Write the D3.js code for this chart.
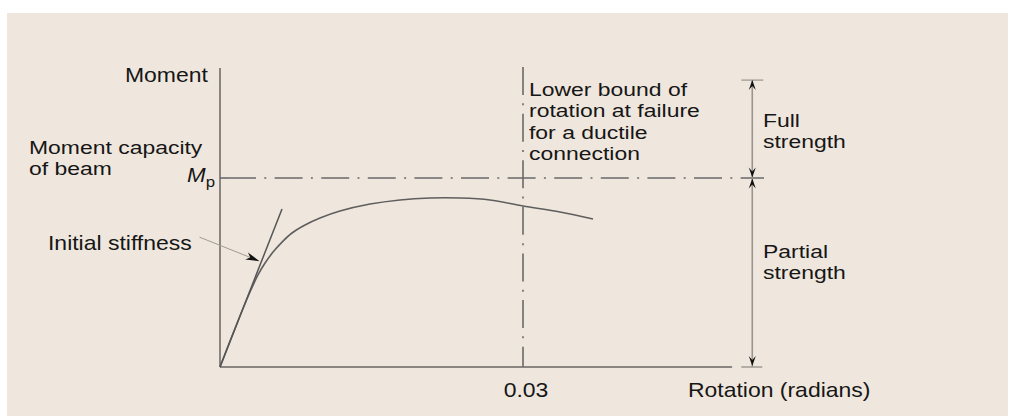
<!DOCTYPE html>
<html><head><meta charset="utf-8">
<script src="https://cdn.jsdelivr.net/npm/d3@7"></script>
<style>
html,body{margin:0;padding:0;background:#fff;}
svg{display:block;}
</style></head>
<body>
<svg id="chart" width="1010" height="416"></svg>
<script>
// ---- data (rotation in radians, moment as fraction of Mp) ----
const rotation = [0, 0.00198, 0.00297, 0.00376, 0.00446, 0.00525, 0.00614, 0.00713, 0.00842, 0.00990, 0.01188, 0.01485, 0.01782, 0.02079, 0.02376, 0.02673, 0.03, 0.03366, 0.03693];
const moment   = [0, 0.270, 0.397, 0.487, 0.550, 0.608, 0.661, 0.709, 0.751, 0.788, 0.825, 0.862, 0.884, 0.894, 0.894, 0.884, 0.852, 0.820, 0.783];
const tangentRotation = [0, 0.00614];
const tangentMoment   = [0, 0.836];
const failureRotation = 0.03;
const xTickLabels = ["0.03"];
const axisRotationMax = 0.0507;
const axisMomentMax = 1.582;

const svg = d3.select("#chart");
const W = 1010, H = 416;
svg.append("rect").attr("x", 7).attr("y", 13).attr("width", 1001).attr("height", H - 13).attr("fill", "#efe7dd");

const x = d3.scaleLinear().domain([0, 0.03]).range([220, 523]);
const y = d3.scaleLinear().domain([0, 1]).range([367, 178]);

const AX = "#8a8580", LINE = "#6a6a6a", TXT = "#161616";
const FS = 20.5, SX = 1.12;

// axes
const xAxis = d3.axisBottom(x).tickValues([]).tickSizeOuter(0);
svg.append("g").attr("transform", `translate(0,${y(0)})`).call(xAxis)
  .call(g => g.select(".domain").attr("d", `M${x(0)},0H${x(axisRotationMax)}`).attr("stroke", AX).attr("stroke-width", 2));
const yAxis = d3.axisLeft(y).tickValues([]).tickSizeOuter(0);
svg.append("g").attr("transform", `translate(${x(0)},0)`).call(yAxis)
  .call(g => g.select(".domain").attr("d", `M0,${y(axisMomentMax)}V${y(0)}`).attr("stroke", AX).attr("stroke-width", 2));

// Mp dash-dot line
const dash = "28,8.3,2,8.3";
const mpEnd = 0.05386;
svg.append("line").attr("x1", x(0)).attr("x2", x(0) + 8).attr("y1", y(1)).attr("y2", y(1))
  .attr("stroke", LINE).attr("stroke-width", 1.6);
svg.append("line").attr("x1", x(0) + 8).attr("x2", x(mpEnd)).attr("y1", y(1)).attr("y2", y(1))
  .attr("stroke", LINE).attr("stroke-width", 1.6).attr("stroke-dasharray", dash);

// vertical dash-dot at failure rotation
svg.append("line").attr("x1", x(failureRotation)).attr("x2", x(failureRotation))
  .attr("y1", y(1.587)).attr("y2", y(0))
  .attr("stroke", LINE).attr("stroke-width", 1.6).attr("stroke-dasharray", dash);

// moment-rotation curve
const pts = rotation.map((r, i) => [r, moment[i]]);
const line = d3.line().x(d => x(d[0])).y(d => y(d[1])).curve(d3.curveCatmullRom.alpha(0.5));
svg.append("path").datum(pts).attr("d", line).attr("fill", "none").attr("stroke", "#5e5e5e").attr("stroke-width", 1.6);

// initial stiffness tangent
const tpts = tangentRotation.map((r, i) => [r, tangentMoment[i]]);
svg.append("path").datum(tpts).attr("d", d3.line().x(d => x(d[0])).y(d => y(d[1])))
  .attr("fill", "none").attr("stroke", "#555").attr("stroke-width", 1.5);

// arrow helper
function arrowHead(tx, ty, ux, uy, len, half, notch, fill) {
  const nx = -uy, ny = ux;
  const bx = tx - ux * len, by = ty - uy * len;
  const mx = tx - ux * notch, my = ty - uy * notch;
  return svg.append("path")
    .attr("d", `M${tx},${ty}L${bx + nx * half},${by + ny * half}L${mx},${my}L${bx - nx * half},${by - ny * half}Z`)
    .attr("fill", fill);
}

// leader for initial stiffness
const tipM = 0.56, tipR = tipM * tangentRotation[1] / tangentMoment[1];
const tipX = x(tipR) - 2, tipY = y(tipM);
const dx = 60, dy = 24, dl = Math.hypot(dx, dy);
svg.append("line").attr("x1", tipX - dx).attr("y1", tipY - dy).attr("x2", tipX - 4).attr("y2", tipY - 1.6)
  .attr("stroke", "#a09a94").attr("stroke-width", 1);
arrowHead(tipX, tipY, dx / dl, dy / dl, 14, 3.8, 10, "#111");

// dimension line on the right
const dimR = 0.0527, dimTop = 1.518;
const dX = x(dimR);
svg.append("line").attr("x1", dX).attr("x2", dX).attr("y1", y(dimTop)).attr("y2", y(0))
  .attr("stroke", "#9a948e").attr("stroke-width", 1.6);
svg.append("line").attr("x1", dX - 11).attr("x2", dX + 11).attr("y1", y(dimTop)).attr("y2", y(dimTop))
  .attr("stroke", "#9a948e").attr("stroke-width", 1.2);
svg.append("line").attr("x1", dX - 11).attr("x2", dX + 10).attr("y1", y(0)).attr("y2", y(0))
  .attr("stroke", "#9a948e").attr("stroke-width", 1.4);
arrowHead(dX, y(dimTop), 0, -1, 10, 3.5, 6, "#111");
arrowHead(dX, y(1) - 0.5, 0, 1, 10, 3.5, 6, "#111");
arrowHead(dX, y(1) + 0.5, 0, -1, 10, 3.5, 6, "#111");
arrowHead(dX, y(0) - 1, 0, 1, 10, 3.5, 6, "#111");

// text helper: one text element, lines as tspans
function label(tx, ty, lines, opts = {}) {
  if (!Array.isArray(lines)) lines = [lines];
  const lh = opts.lh || 21.3;
  const t = svg.append("text")
    .attr("transform", `translate(${tx},${ty}) scale(${opts.sx || SX},1)`)
    .attr("font-family", "'Liberation Sans', Arial, sans-serif")
    .attr("font-size", opts.size || FS)
    .attr("fill", TXT)
    .attr("text-anchor", opts.anchor || "start");
  lines.forEach((s, i) => t.append("tspan").attr("x", 0).attr("y", i * lh).text(s));
  return t;
}

const ML = { size: 18.5, sx: 1.24, lh: 21.3 };
label(125, 82, "Moment");
label(29, 154, ["Moment capacity", "of beam"], ML);
const mp = svg.append("text").attr("transform", `translate(187,182) scale(${SX},1)`)
  .attr("font-family", "'Liberation Sans', Arial, sans-serif").attr("fill", TXT);
mp.append("tspan").attr("font-size", 20).attr("font-style", "italic").text("M");
mp.append("tspan").attr("font-size", 15).attr("dy", 5).text("p");

label(48, 250, "Initial stiffness");

label(529, 96, ["Lower bound of", "rotation at failure", "for a ductile", "connection"], ML);
label(763, 127, ["Full", "strength"], ML);
label(763, 258, ["Partial", "strength"], ML);

label(x(failureRotation) + 3, 397, xTickLabels[0], { anchor: "middle" });
label(688, 397, "Rotation (radians)");
</script>
</body></html>
